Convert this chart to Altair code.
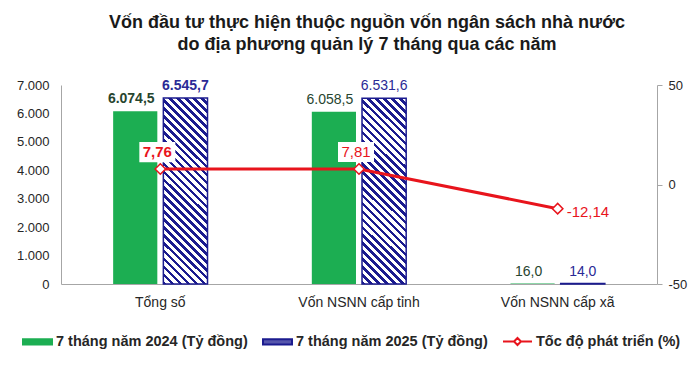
import altair as alt
import pandas as pd

# ---------------- data ----------------
categories = ["Tổng số", "Vốn NSNN cấp tỉnh", "Vốn NSNN cấp xã"]
values_2024 = [6074.5, 6058.5, 16.0]
values_2025 = [6545.7, 6531.6, 14.0]
growth = [7.76, 7.81, -12.14]
series_names = [
    "7 tháng năm 2024 (Tỷ đồng)",
    "7 tháng năm 2025 (Tỷ đồng)",
    "Tốc độ phát triển (%)",
]
title_lines = [
    "Vốn đầu tư thực hiện thuộc nguồn vốn ngân sách nhà nước",
    "do địa phương quản lý 7 tháng qua các năm",
]
left_ticks = [0, 1000, 2000, 3000, 4000, 5000, 6000, 7000]
right_ticks = [-50, 0, 50]

bars_df = pd.DataFrame({
    "category": categories * 2,
    "series": [series_names[0]] * 3 + [series_names[1]] * 3,
    "value": values_2024 + values_2025,
    "idx": [0, 1, 2] * 2,
})
line_df = pd.DataFrame({"category": categories, "growth": growth, "idx": [0, 1, 2]})
legend_df = pd.DataFrame({"series": series_names})

# ---------------- style ----------------
FONT = "Liberation Sans"
GREEN = "#1cae52"
NAVY = "#1b1b8f"
RED = "#e8141c"
AXIS_GRAY = "#a6a6a6"
TEXT = "#262626"
LBL_GREEN = "#27452f"
LBL_NAVY = "#2a2a96"

N_STRIPES = 29
FRAC = 0.45
stops = []
for i in range(N_STRIPES):
    a = i / N_STRIPES
    b = (i + FRAC) / N_STRIPES
    c = (i + 1) / N_STRIPES
    stops += [
        alt.GradientStop(offset=a, color=NAVY),
        alt.GradientStop(offset=b, color=NAVY),
        alt.GradientStop(offset=b, color="white"),
        alt.GradientStop(offset=c, color="white"),
    ]
hatch = alt.Gradient(gradient="linear", stops=stops, x1=0, y1=1, x2=0.277, y2=-0.17)

RECT_PATH = "M-1,-0.18L1,-0.18L1,0.18L-1,0.18Z"
LINE_DIAMOND = "M-1,0L-0.24,0M0.24,0L1,0M-0.24,0L0,-0.24L0.24,0L0,0.24Z"
BOX_PATH = "M-1,-0.56L1,-0.56L1,0.56L-1,0.56Z"

x_axis = alt.Axis(
    title=None, labelAngle=0, ticks=False, tickSize=0, labelPadding=11,
    domainColor=AXIS_GRAY, labelFont=FONT, labelFontSize=14, labelColor=TEXT,
)
x_enc = alt.X(
    "category:N", sort=categories,
    scale=alt.Scale(paddingInner=0.525, paddingOuter=0.2625),
    axis=x_axis,
)
xoff_enc = alt.XOffset(
    "series:N",
    scale=alt.Scale(domain=series_names[:2], paddingInner=0.12, paddingOuter=0),
)
y_left = alt.Y(
    "value:Q",
    scale=alt.Scale(domain=[0, 7000], nice=False),
    axis=alt.Axis(
        title=None, values=left_ticks, format=",.0f", grid=False, ticks=False,
        tickSize=0, labelPadding=12, domainColor=AXIS_GRAY, labelFont=FONT,
        labelFontSize=13, labelColor=TEXT,
    ),
)
y_right = alt.Y(
    "growth:Q",
    scale=alt.Scale(domain=[-50, 50], nice=False),
    axis=alt.Axis(
        title=None, orient="right", values=right_ticks, format=".0f", grid=False,
        ticks=True, tickSize=5, tickColor=AXIS_GRAY, labelPadding=6,
        domainColor=AXIS_GRAY, labelFont=FONT, labelFontSize=13, labelColor=TEXT,
    ),
)

base_bars = alt.Chart(bars_df)

bar_2024 = base_bars.transform_filter(
    alt.datum.series == series_names[0]
).mark_bar(color=GREEN).encode(x=x_enc, xOffset=xoff_enc, y=y_left)

bar_2025 = base_bars.transform_filter(
    alt.datum.series == series_names[1]
).mark_bar(fill=hatch, stroke=NAVY, strokeWidth=1.5).encode(x=x_enc, xOffset=xoff_enc, y=y_left)


def bar_label(series, color, bold):
    cond = (alt.datum.idx == 0) if bold else (alt.datum.idx != 0)
    return base_bars.transform_filter(alt.datum.series == series).transform_filter(cond).mark_text(
        font=FONT, fontSize=14, fontWeight="bold" if bold else "normal",
        color=color, baseline="alphabetic", dy=-8, dx=-4 if series == series_names[0] else 0,
    ).encode(x=x_enc, xOffset=xoff_enc, y=y_left, text=alt.Text("value:Q", format=",.1f"))


bar_group = alt.layer(
    bar_2024, bar_2025,
    bar_label(series_names[0], LBL_GREEN, True),
    bar_label(series_names[0], LBL_GREEN, False),
    bar_label(series_names[1], LBL_NAVY, True),
    bar_label(series_names[1], LBL_NAVY, False),
)

base_line = alt.Chart(line_df)
line = base_line.mark_line(color=RED, strokeWidth=3).encode(x=x_enc, y=y_right)
points = base_line.mark_point(
    shape="diamond", filled=True, fill="white", stroke=RED, strokeWidth=1.5,
    size=110, opacity=1,
).encode(x=x_enc, y=y_right)
boxes = base_line.transform_filter(alt.datum.growth > 0).mark_point(
    shape=BOX_PATH, filled=True, fill="white", strokeWidth=0, size=1296,
    opacity=1, xOffset=-3, yOffset=-17,
).encode(x=x_enc, y=y_right)
lbl_pos_bold = base_line.transform_filter(alt.datum.growth > 0).transform_filter(alt.datum.idx == 0).mark_text(
    font=FONT, fontSize=15, fontWeight="bold", color=RED, dx=-3, dy=-17, baseline="middle",
).encode(x=x_enc, y=y_right, text=alt.Text("growth:Q", format=".2f"))
lbl_pos = base_line.transform_filter(alt.datum.growth > 0).transform_filter(alt.datum.idx != 0).mark_text(
    font=FONT, fontSize=15, color=RED, dx=-3, dy=-17, baseline="middle",
).encode(x=x_enc, y=y_right, text=alt.Text("growth:Q", format=".2f"))
lbl_neg = base_line.transform_filter(alt.datum.growth < 0).mark_text(
    font=FONT, fontSize=15, color=RED, align="left", dx=9, dy=3, baseline="middle",
).encode(x=x_enc, y=y_right, text=alt.Text("growth:Q", format=".2f"))

line_group = alt.layer(line, points, boxes, lbl_pos_bold, lbl_pos, lbl_neg)

legend_props = dict(
    title=None, orient="none", legendX=-39, legendY=241, direction="horizontal",
    symbolSize=841, symbolStrokeWidth=2, symbolOpacity=1, labelFont=FONT,
    labelFontSize=14.5, labelFontWeight="bold", labelColor=TEXT, labelOffset=3,
    labelLimit=400, columnPadding=11, padding=0,
)
legend_layer = alt.Chart(legend_df).mark_point(opacity=0, filled=True).encode(
    x=alt.value(0), y=alt.value(0),
    fill=alt.Fill("series:N", scale=alt.Scale(domain=series_names, range=[GREEN, "#5656ac", "white"]),
                  legend=alt.Legend(**legend_props)),
    stroke=alt.Stroke("series:N", scale=alt.Scale(domain=series_names, range=[GREEN, NAVY, RED]),
                      legend=alt.Legend(**legend_props)),
    shape=alt.Shape("series:N", scale=alt.Scale(domain=series_names, range=[RECT_PATH, RECT_PATH, LINE_DIAMOND]),
                    legend=alt.Legend(**legend_props)),
)

chart = alt.layer(bar_group, line_group, legend_layer).resolve_scale(
    y="independent"
).properties(
    width=596, height=199,
    autosize=alt.AutoSizeParams(type="none"),
    padding={"left": 61, "top": 85, "right": 42, "bottom": 90},
    title=alt.TitleParams(
        title_lines, font=FONT, fontSize=18, fontWeight="bold", color="#1a1a1a",
        lineHeight=22, anchor="middle", frame="group", dx=8, offset=25,
    ),
).configure(
    background="white",
    locale=alt.Locale(number=alt.NumberLocale(
        decimal=",", thousands=".", grouping=[3], currency=["", ""], minus="-"
    )),
).configure_view(stroke=None)

chart.save("out.html", embed_options={"renderer": "svg", "actions": False})
